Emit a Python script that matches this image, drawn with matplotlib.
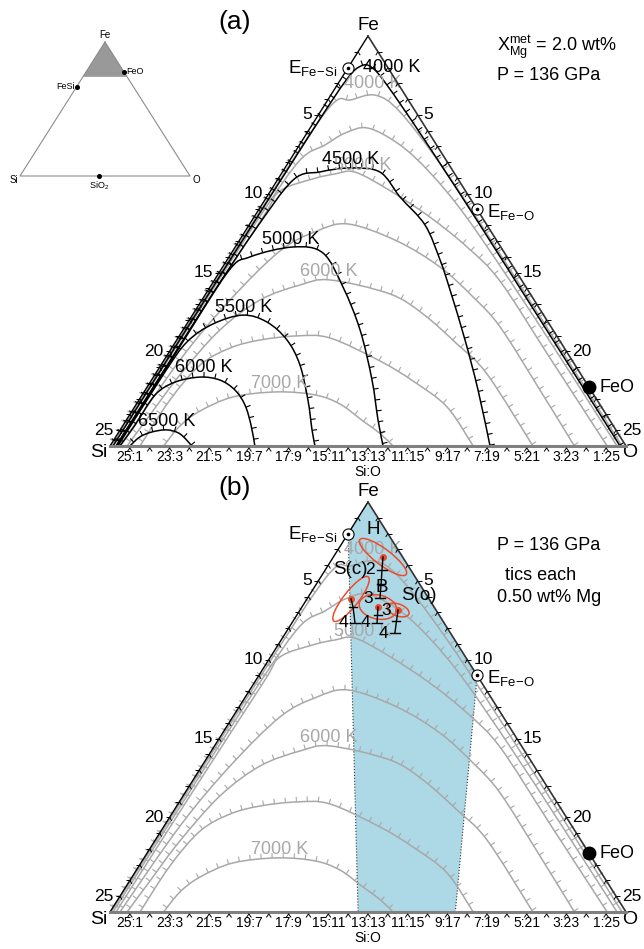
import numpy as np
import matplotlib
matplotlib.use("Agg")
import matplotlib.pyplot as plt
from matplotlib.collections import LineCollection
from matplotlib.patches import Ellipse, Polygon, PathPatch
from matplotlib.path import Path

plt.rcParams['font.family'] = ['Liberation Sans', 'DejaVu Sans']
plt.rcParams['mathtext.fontset'] = 'custom'
plt.rcParams['mathtext.rm'] = 'Liberation Sans'
plt.rcParams['mathtext.it'] = 'Liberation Sans:italic'

# Fe corner of the Fe-Si-O triangle, Si+O from 0 to 26 wt%
SMAX = 26
DX = 258 / SMAX          # px per wt% of (O - Si)
DY = 410 / SMAX          # px per wt% of (Si + O)
GREY = '#a8a8a8'

# liquidus isotherms without Mg (grey), wt% Si / wt% O
grey_T = [4000, 4500, 5000, 5500, 6000, 6500, 7000]
grey_si = [
    [25.95, 18.0, 10.0, 5.5, 3.6, 2.94, 1.52, 0.8, 0.4, 0.25, 0.2],
    [25.85, 18.0, 11.0, 7.36, 5.62, 4.24, 2.92, 1.84, 1.2, 0.8, 0.6, 0.5, 0.45],
    [25.7, 18.0, 11.0, 9.35, 7.3, 6.04, 4.97, 3.8, 2.62, 1.7, 1.12, 1.04, 0.95],
    [25.5, 19.75, 15.33, 11.25, 8.88, 6.97, 5.04, 3.7, 2.98, 2.57, 2.56, 2.6],
    [25.14, 23.0, 20.22, 16.78, 13.81, 11.32, 9.65, 7.07, 6.04, 5.28, 4.72, 4.69],
    [24.49, 21.52, 18.9, 16.85, 15.08, 13.09, 11.49, 9.7, 8.67, 7.78, 7.7],
    [23.3, 21.84, 20.35, 18.25, 15.87, 14.05, 13.08, 12.46, 12.0, 11.74],
]
grey_o = [
    [0.05, 0.08, 0.12, 0.2, 0.47, 1.12, 2.23, 4.0, 8.0, 14.0, 25.8],
    [0.15, 0.2, 0.28, 0.51, 1.29, 1.92, 2.92, 5.07, 7.5, 10.5, 15.0, 20.0, 25.55],
    [0.3, 0.35, 0.45, 0.48, 1.76, 2.71, 3.66, 6.0, 8.87, 11.68, 14.42, 19.38, 25.05],
    [0.5, 0.8, 1.42, 2.38, 3.54, 4.95, 7.96, 10.95, 13.57, 15.88, 19.89, 23.4],
    [0.86, 1.03, 1.27, 1.86, 2.93, 4.47, 5.82, 9.29, 11.59, 14.25, 16.71, 21.31],
    [1.51, 1.56, 1.97, 2.94, 4.2, 5.93, 7.66, 10.91, 13.21, 15.74, 18.3],
    [2.7, 2.89, 3.43, 4.64, 6.7, 8.71, 10.26, 11.96, 13.2, 14.26],
]

# liquidus isotherms with 2.0 wt% Mg in the metal (black)
black_T = [4000, 4500, 5000, 5500, 6000, 6500]
black_si = [
    [25.85, 15.0, 6.0, 2.5, 1.3, 0.8, 0.6, 0.45, 0.35, 0.3],
    [25.7, 20.0, 15.57, 11.85, 8.35, 6.73, 5.09, 3.71, 3.49, 3.12, 3.47, 3.92, 4.75, 5.68, 6.85],
    [25.65, 20.0, 14.62, 12.95, 10.47, 9.15, 9.22, 9.72, 10.7, 11.67, 12.24],
    [25.6, 21.0, 18.82, 16.94, 15.15, 14.16, 13.72, 13.86, 14.57, 15.31, 15.67],
    [25.5, 24.08, 22.12, 20.7, 19.28, 18.37, 17.93, 17.9, 18.23, 18.7],
    [25.0, 24.2, 23.44, 22.62, 22.09, 21.87],
]
black_o = [
    [0.15, 0.15, 0.2, 0.3, 0.6, 1.2, 2.5, 6.0, 12.0, 25.7],
    [0.3, 0.32, 0.35, 0.46, 0.79, 1.89, 3.28, 4.92, 6.72, 8.86, 10.73, 12.19, 14.53, 16.77, 19.15],
    [0.35, 0.37, 0.41, 1.06, 2.91, 4.61, 6.7, 8.92, 11.1, 12.68, 13.76],
    [0.4, 0.42, 0.58, 1.32, 2.55, 3.98, 5.56, 7.0, 8.52, 9.67, 10.33],
    [0.5, 0.6, 0.65, 1.25, 2.35, 3.45, 4.52, 5.5, 6.44, 7.3],
    [1.0, 1.22, 1.67, 2.36, 3.14, 4.13],
]

# eutectics and FeO on the binaries (wt%)
eut_si, eut_o = [2.0, 0.0], [0.0, 11.0]
feo_o = 22.27

# Si:O ratios along the bottom edge
ratio_si = [25, 23, 21, 19, 17, 15, 13, 11, 9, 7, 5, 3, 1]

# core compositions (H, B, S(c), S(o)) and their paths with rising Mg
samples = ['H', 'B', 'S(c)', 'S(o)']
sample_si = [0.99, 2.83, 3.93, 1.91]
sample_o = [2.5, 3.83, 2.22, 4.94]
path_si = [[1.45, 1.94, 2.44], [3.1, 3.38], [4.08, 4.49], [2.34, 2.8]]
path_o = [[2.86, 3.26, 3.65], [4.06, 4.29], [2.57, 3.18], [5.21, 5.51]]
path_mg = [[2.0, 2.5, 3.0], [3.5, 4.0], [3.5, 4.0], [3.5, 4.0]]
sample_mg = [1.5, 3.2, 3.2, 3.0]

# field allowed for the core (Fe, E_Fe-Si, base, base, E_Fe-O)
field_si = [0, 2.0, 13.5, 8.6, 0]
field_o = [0, 0, 12.5, 17.4, 11.0]

# whole-triangle inset, wt%
inset_pts = ['FeSi', 'FeO', 'SiO$_2$']
inset_si = [33.5, 0.0, 53.5]
inset_o = [0.0, 22.3, 46.5]


def tern(si, o):
    si = np.asarray(si, float)
    o = np.asarray(o, float)
    return (o - si) * DX, -(si + o) * DY


def P(x, y):
    # pixel position measured in the upper panel -> data coords (apex at 0, 0)
    return x - 368, 36 - y


def smooth_path(x, y):
    # Catmull-Rom curve through the points, written as cubic Bezier pieces
    p = np.column_stack([x, y])
    ext = np.vstack([p[0], p, p[-1]])
    verts, codes = [p[0]], [Path.MOVETO]
    for i in range(len(p) - 1):
        a, b, c, d = ext[i], ext[i + 1], ext[i + 2], ext[i + 3]
        verts += [b + (c - a) / 6, c - (d - b) / 6, c]
        codes += [Path.CURVE4] * 3
    return Path(verts, codes)


def path_points(path):
    t = np.linspace(0, 1, 20)
    pts = [seg(t) for seg, code in path.iter_bezier(simplify=False)
           if code != Path.MOVETO]
    return np.vstack(pts)


def curve_ticks(ax, pts, color, step=11.0, length=5.0, lw=0.8):
    xs, ys = pts[:, 0], pts[:, 1]
    seg = np.hypot(np.diff(xs), np.diff(ys))
    keep = np.concatenate([[True], seg > 1e-9])
    xs, ys = xs[keep], ys[keep]
    seg = np.hypot(np.diff(xs), np.diff(ys))
    cum = np.concatenate([[0], np.cumsum(seg)])
    segs = []
    for t in np.arange(step / 2, cum[-1], step):
        i = min(np.searchsorted(cum, t) - 1, len(seg) - 1)
        f = (t - cum[i]) / seg[i]
        x = xs[i] + f * (xs[i + 1] - xs[i])
        y = ys[i] + f * (ys[i + 1] - ys[i])
        tx, ty = (xs[i + 1] - xs[i]) / seg[i], (ys[i + 1] - ys[i]) / seg[i]
        segs.append([(x, y), (x - ty * length, y + tx * length)])
    ax.add_collection(LineCollection(segs, colors=color, linewidths=lw, zorder=3))


def draw_isotherms(ax, si_list, o_list, color, lw=1.1):
    for si, o in zip(si_list, o_list):
        path = smooth_path(*tern(si, o))
        ax.add_patch(PathPatch(path, fill=False, ec=color, lw=lw, zorder=3))
        curve_ticks(ax, path_points(path), color)


def draw_frame(ax):
    cx, cy = tern([0, SMAX, 0], [0, 0, SMAX])
    ax.plot([cx[0], cx[1]], [cy[0], cy[1]], color='black', lw=1.0, zorder=5)
    ax.plot([cx[0], cx[2]], [cy[0], cy[2]], color='#333333', lw=1.2, zorder=5)
    ax.plot([cx[1], cx[2]], [cy[1], cy[2]], color='#808080', lw=2.2, zorder=5)

    k = np.arange(1, SMAX)
    segs = []
    lx, ly = tern(k, 0 * k)
    for x, y in zip(lx, ly):
        segs.append([(x - 4, y), (x, y)])
        segs.append([(x, y), (x + 0.53 * 4, y - 0.85 * 4)])
    rx, ry = tern(0 * k, k)
    for x, y in zip(rx, ry):
        segs.append([(x + 4, y), (x, y)])
        segs.append([(x, y), (x - 0.53 * 4, y - 0.85 * 4)])
    bx, by = tern(k, SMAX - k)
    for x, y in zip(bx, by):
        segs.append([(x - 2.5, y - 5.5), (x, y - 2), (x + 2.5, y - 5.5)])
    ax.add_collection(LineCollection(segs, colors='black', linewidths=0.7, zorder=5))

    for v in [5, 10, 15, 20, 25]:
        x, y = tern(v, 0)
        ax.text(x - 6, y, str(v), ha='right', va='center', fontsize=12.5)
        x, y = tern(0, v)
        ax.text(x + 6, y, str(v), ha='left', va='center', fontsize=12.5)
    for s in ratio_si:
        x, y = tern(s, SMAX - s)
        ax.text(x, y - 4, f'{s}:{SMAX - s}', ha='center', va='top', fontsize=10)
    ax.text(*P(368, 472), 'Si:O', ha='center', va='center', fontsize=10)
    ax.text(*P(368, 25), 'Fe', ha='center', va='center', fontsize=13.5)
    ax.text(*P(107, 453), 'Si', ha='right', va='center', fontsize=14)
    ax.text(*P(622, 453), 'O', ha='left', va='center', fontsize=14)

    ex, ey = tern(eut_si, eut_o)
    ax.plot(ex, ey, 'o', ms=8, mfc='white', mec='black', mew=0.8, zorder=7)
    ax.plot(ex, ey, 'o', ms=1.6, color='black', zorder=8)
    ax.text(ex[0] - 11, ey[0], r'E$_{\mathrm{Fe\!-\!Si}}$', ha='right', va='center', fontsize=13.5)
    ax.text(ex[1] + 10, ey[1] - 3, r'E$_{\mathrm{Fe\!-\!O}}$', ha='left', va='center', fontsize=13.5)
    fx, fy = tern(0, feo_o)
    ax.plot(fx, fy, 'o', ms=9, color='black', zorder=7)
    ax.text(fx + 11, fy, 'FeO', ha='left', va='center', fontsize=13)


def grey_labels(ax):
    for T, (x, y) in zip([4000, 5000, 6000, 7000],
                         [(373, 84), (363, 166), (329, 271), (280, 383)]):
        ax.text(*P(x, y), f'{T} K', color=GREY, ha='center', va='center',
                fontsize=13, zorder=4)


fig = plt.figure(figsize=(6.44, 9.49), dpi=100)


def panel(top, bottom, apex):
    ax = fig.add_axes([0, 1 - bottom / 949, 1, (bottom - top) / 949])
    ax.set_xlim(-368, 644 - 368)
    ax.set_ylim(apex - bottom, apex - top)
    ax.axis('off')
    return ax


# ---------------- (a) ----------------
ax = panel(0, 474, 36)
draw_isotherms(ax, grey_si, grey_o, GREY)
draw_isotherms(ax, black_si, black_o, 'black')
draw_frame(ax)
grey_labels(ax)
for T, (x, y) in zip(black_T, [(392, 67), (351, 160), (291, 240), (244, 307),
                               (204, 368), (167, 422)]):
    ax.text(*P(x, y), f'{T} K', ha='center', va='center', fontsize=13, zorder=6)
ax.text(*P(235, 22), '(a)', ha='center', va='center', fontsize=19)
ax.text(*P(497, 47), r'X$^{\mathrm{met}}_{\mathrm{Mg}}$ = 2.0 wt%', ha='left',
        va='center', fontsize=13)
ax.text(*P(497, 76), 'P = 136 GPa', ha='left', va='center', fontsize=13)

# inset: full Fe-Si-O triangle with the zoomed corner shaded
def itern(si, o):
    si = np.asarray(si, float)
    o = np.asarray(o, float)
    return 105 + (o - si) * 0.85 - 368, 36 - (42 + (si + o) * 1.34)

tx, ty = itern([0, 100, 0, 0], [0, 0, 100, 0])
ax.plot(tx, ty, color='#8c8c8c', lw=0.8)
sx, sy = itern([0, SMAX, 0], [0, 0, SMAX])
ax.add_patch(Polygon(np.column_stack([sx, sy]), closed=True, fc='#999999', ec='none'))
px_, py_ = itern(inset_si, inset_o)
ax.plot(px_, py_, 'o', ms=2.6, color='black')
ax.text(*P(105, 35), 'Fe', ha='center', va='center', fontsize=7)
ax.text(*P(14, 180), 'Si', ha='center', va='center', fontsize=7)
ax.text(*P(196, 180), 'O', ha='center', va='center', fontsize=7)
ax.text(px_[0] - 2, py_[0], inset_pts[0], ha='right', va='center', fontsize=6.5)
ax.text(px_[1] + 2, py_[1], inset_pts[1], ha='left', va='center', fontsize=6.5)
ax.text(px_[2], py_[2] - 3, inset_pts[2], ha='center', va='top', fontsize=6.5)

# ---------------- (b) ----------------
ax = panel(474, 949, 502)
fx, fy = tern(field_si, field_o)
ax.add_patch(Polygon(np.column_stack([fx, fy]), closed=True, fc='#add8e6',
                     ec='none', zorder=1))
ax.plot(fx[1:3], fy[1:3], color='#333333', lw=0.8, ls=':', zorder=2)
ax.plot(fx[3:5], fy[3:5], color='#333333', lw=0.8, ls=':', zorder=2)
draw_isotherms(ax, grey_si, grey_o, GREY)
draw_frame(ax)
grey_labels(ax)
ax.text(*P(235, 22), '(b)', ha='center', va='center', fontsize=19)
ax.text(*P(497, 79), 'P = 136 GPa', ha='left', va='center', fontsize=13)
ax.text(*P(505, 109), 'tics each', ha='left', va='center', fontsize=13)
ax.text(*P(497, 132), '0.50 wt% Mg', ha='left', va='center', fontsize=13)

red = '#ee4b2b'
ell = {'H': (58, 16, -37), 'B': (38, 24, -12), 'S(c)': (56, 15, 52), 'S(o)': (23, 12, -20)}
name_pos = {'H': (373, 64), 'B': (382, 121), 'S(c)': (350, 104), 'S(o)': (419, 129)}
for i, name in enumerate(samples):
    x0, y0 = tern(sample_si[i], sample_o[i])
    w, h, ang = ell[name]
    ax.add_patch(Ellipse((x0, y0), w, h, angle=ang, fill=False, ec=red, lw=1.1, zorder=8))
    ax.plot(x0, y0, 'o', ms=4, color=red, zorder=9)
    xs, ys = tern([sample_si[i]] + path_si[i], [sample_o[i]] + path_o[i])
    ax.plot(xs, ys, color='black', lw=1.0, zorder=9)
    for x, y, mg in zip(xs[1:], ys[1:], path_mg[i]):
        half = 5 if mg % 1 == 0 else 4
        ax.plot([x - half, x + half], [y, y], color='black', lw=1.0, zorder=9)
        if mg % 1 == 0:
            ax.text(x - 7, y, f'{mg:.0f}', ha='right', va='center', fontsize=12.5, zorder=10)
    if sample_mg[i] % 1 == 0:
        ax.text(x0 - 7, y0, f'{sample_mg[i]:.0f}', ha='right', va='center',
                fontsize=12.5, zorder=10)
    ax.text(*P(*name_pos[name]), name, ha='center', va='center', fontsize=13.5, zorder=10)

fig.savefig('out.png', dpi=100)
